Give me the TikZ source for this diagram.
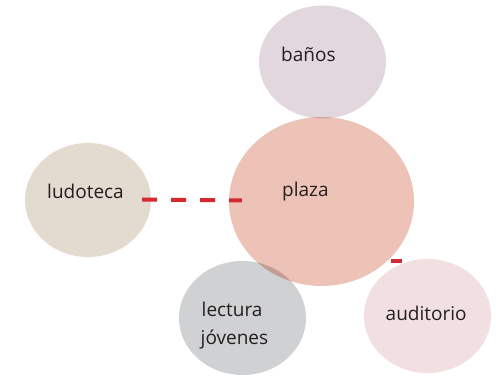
\documentclass[tikz,border=0pt]{standalone}
\usepackage{fontspec}
\setmainfont{Open Sans}
\usetikzlibrary{shapes.geometric}
\definecolor{cbanos}{HTML}{E3D7DE}
\definecolor{cplaza}{HTML}{EDC3B8}
\definecolor{cludo}{HTML}{E3DAD0}
\definecolor{clect}{HTML}{D0D1D3}
\definecolor{caudi}{HTML}{F1DFE1}
\definecolor{cred}{HTML}{D42A2F}
\definecolor{ctext}{HTML}{231F20}
\tikzset{
  blob/.style={ellipse, draw=none, inner sep=0pt},
  lbl/.style={anchor=base west, inner sep=0pt, text=ctext, font=\fontsize{19}{23}\selectfont},
  reddash/.style={draw=cred, line width=4pt, dash pattern=on 15pt off 14pt},
  redtick/.style={draw=cred, line width=4pt}
}
\begin{document}
\begin{tikzpicture}[x=1pt,y=1pt]
\useasboundingbox (0,0) rectangle (496,377);
\begin{scope}[blend group=multiply]
\node[blob, fill=cbanos, minimum width=127pt, minimum height=113pt] (banos) at (322.5,315) {};
\node[blob, fill=cludo, minimum width=126pt, minimum height=114pt] (ludoteca) at (88,177) {};
\node[blob, fill=cplaza, minimum width=185pt, minimum height=169pt] (plaza) at (321.5,175.5) {};
\node[blob, fill=clect, minimum width=127pt, minimum height=114pt] (lectura) at (242.5,59) {};
\node[blob, fill=caudi, minimum width=127pt, minimum height=114pt] (auditorio) at (427.5,61) {};
\end{scope}
\node[lbl] (tbanos) at (281,315) {baños};
\node[lbl] (tplaza) at (282,180) {plaza};
\node[lbl] (tludo) at (47,178) {ludoteca};
\node[lbl] (tlect) at (201.5,60) {lectura};
\node[lbl] (tjov) at (200.5,32) {jóvenes};
\node[lbl] (taudi) at (385.5,56) {auditorio};
\coordinate (d1) at ([xshift=-9pt,yshift=0.5pt]ludoteca.east);
\coordinate (d2) at ([xshift=13pt,yshift=1pt]plaza.west);
\draw[reddash] (d1) -- (d2);
\coordinate (t1) at (391,116);
\coordinate (t2) at (402,116);
\draw[redtick] (t1) -- (t2);
\end{tikzpicture}
\end{document}
